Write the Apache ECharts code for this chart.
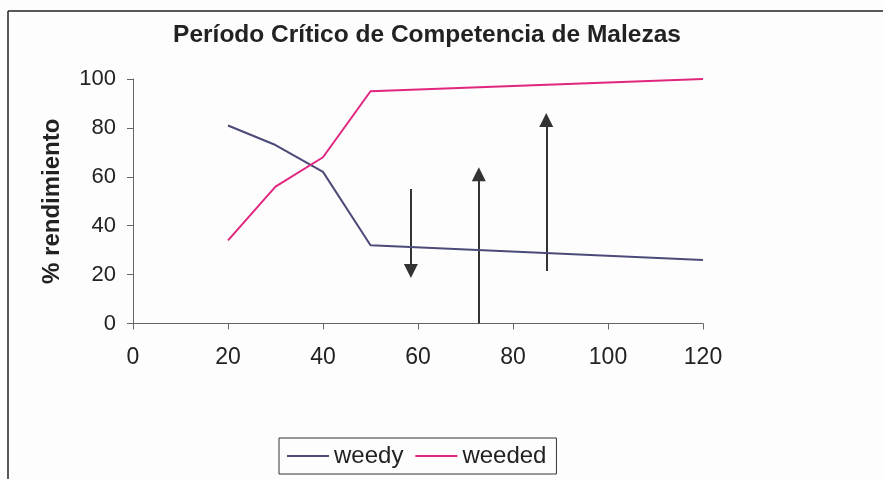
<!DOCTYPE html>
<html>
<head>
<meta charset="utf-8">
<script src="https://cdn.jsdelivr.net/npm/echarts@6/dist/echarts.min.js"></script>
<style>
  html, body { margin: 0; padding: 0; background: #fdfdfd; }
  #chart { width: 883px; height: 479px; }
</style>
</head>
<body>
<div id="chart"></div>
<script>
// datos
const dias = [20, 30, 40, 50, 120]
const weedy = [81, 73, 62, 32, 26]
const weeded = [34, 56, 68, 95, 100]
// flechas: [x, yInicio, yFin] (yFin = centro de la punta)
const flechas = [
  [58.5, 55, 21.5],
  [72.8, 0, 61],
  [87, 21.5, 83.2]
]
const xTicks = { min: 0, max: 120, interval: 20 }
const yTicks = { min: 0, max: 100, interval: 20 }

const font = '"Liberation Sans", Arial, sans-serif'
const chart = echarts.init(document.getElementById('chart'))

chart.setOption({
  backgroundColor: '#fdfdfd',
  animation: false,
  textStyle: { fontFamily: font },
  title: {
    text: 'Período Crítico de Competencia de Malezas',
    left: 422,
    textAlign: 'center',
    top: 18,
    textStyle: { fontSize: 24.5, fontWeight: 'bold', color: '#222', fontFamily: font }
  },
  legend: {
    data: ['weedy', 'weeded'],
    left: 279,
    top: 438,
    padding: [6, 10, 6, 8],
    itemGap: 12,
    itemWidth: 42,
    itemHeight: 2,
    icon: 'rect',
    borderColor: '#333',
    borderWidth: 1,
    textStyle: { fontSize: 24, color: '#222', fontFamily: font }
  },
  grid: { left: 133, right: 180, top: 79, bottom: 155.5 },
  xAxis: {
    type: 'value',
    ...xTicks,
    splitLine: { show: false },
    axisLine: { lineStyle: { color: '#666', width: 1 } },
    axisTick: { length: 6, lineStyle: { color: '#666' } },
    axisLabel: { fontSize: 23, color: '#222', margin: 23 }
  },
  yAxis: {
    type: 'value',
    ...yTicks,
    name: '% rendimiento',
    nameLocation: 'middle',
    nameGap: 69,
    nameTextStyle: { fontSize: 24, fontWeight: 'bold', color: '#222' },
    splitLine: { show: false },
    axisLine: { show: true, lineStyle: { color: '#666', width: 1 } },
    axisTick: { show: true, length: 6, lineStyle: { color: '#666' } },
    axisLabel: { fontSize: 22, color: '#222', margin: 17 }
  },
  graphic: [
    { type: 'line', shape: { x1: 8, y1: 11, x2: 883, y2: 11 }, style: { stroke: '#222', lineWidth: 1.5 } },
    { type: 'line', shape: { x1: 8, y1: 11, x2: 8, y2: 479 }, style: { stroke: '#222', lineWidth: 1.5 } }
  ],
  series: [
    {
      name: 'weedy',
      type: 'line',
      data: dias.map((d, i) => [d, weedy[i]]),
      symbol: 'none',
      lineStyle: { color: '#4b4a78', width: 2 },
      itemStyle: { color: '#4b4a78' }
    },
    {
      name: 'weeded',
      type: 'line',
      data: dias.map((d, i) => [d, weeded[i]]),
      symbol: 'none',
      lineStyle: { color: '#e0267f', width: 2 },
      itemStyle: { color: '#e0267f' }
    },
    {
      name: 'flechas',
      type: 'lines',
      coordinateSystem: 'cartesian2d',
      symbol: ['none', 'triangle'],
      symbolSize: 14,
      lineStyle: { color: '#333', width: 2, opacity: 1 },
      itemStyle: { color: '#333' },
      data: flechas.map(f => ({ coords: [[f[0], f[1]], [f[0], f[2]]] }))
    }
  ]
})
</script>
</body>
</html>
